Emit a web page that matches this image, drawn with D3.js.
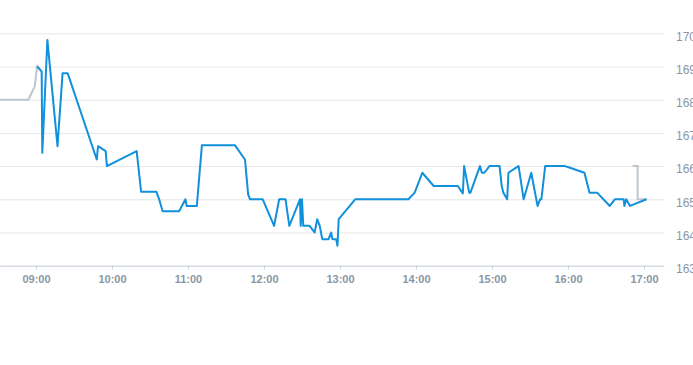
<!DOCTYPE html>
<html>
<head>
<meta charset="utf-8">
<script src="https://cdn.jsdelivr.net/npm/d3@7"></script>
<style>
  body { margin: 0; background: #fff; }
  svg { display: block; font-family: "Liberation Sans", Arial, sans-serif; }
</style>
</head>
<body>
<div class="chart-wrapper"></div>
<script>
var chartwidth = 693
var chartheight = 365
var plotwidth = 664

// pre-market (grey), session (blue), after-hours (grey)
var pretimes = ['08:30:00', '08:54:00', '08:59:00', '09:01:00']
var prevalues = [168.0, 168.0, 168.4, 169.05]

var sessiontimes = ['09:01:00', '09:04:30', '09:05:00', '09:09:00', '09:17:00', '09:21:00', '09:25:00',
  '09:48:00', '09:49:00', '09:55:00', '09:56:00', '10:19:30', '10:23:00', '10:35:00', '10:37:00',
  '10:40:00', '10:53:00', '10:58:00', '10:59:00', '11:07:00', '11:11:00', '11:37:00', '11:45:00',
  '11:47:30', '11:49:00', '11:59:00', '12:08:00', '12:12:00', '12:17:00', '12:20:00', '12:28:24',
  '12:29:00', '12:30:00', '12:31:00', '12:36:00', '12:38:00', '12:40:00', '12:42:00', '12:44:00',
  '12:46:00', '12:51:00', '12:53:00', '12:54:00', '12:57:00', '12:58:00', '12:59:00', '13:12:00',
  '13:54:00', '13:59:00', '14:05:00', '14:14:00', '14:33:00', '14:37:00', '14:38:00', '14:42:00',
  '14:43:00', '14:50:30', '14:52:00', '14:54:00', '14:58:00', '15:06:00', '15:07:40', '15:09:00',
  '15:12:00', '15:13:00', '15:21:00', '15:25:00', '15:31:00', '15:36:00', '15:38:00', '15:39:00',
  '15:42:00', '15:57:36', '16:01:36', '16:13:00', '16:17:00', '16:23:00', '16:33:00', '16:37:00',
  '16:44:00', '16:44:30', '16:46:00', '16:49:00', '17:02:00']
var sessionvalues = [169.0, 168.85, 166.4, 169.8, 166.6, 168.8, 168.8,
  166.2, 166.6, 166.45, 166.0, 166.45, 165.23, 165.23, 165.03,
  164.64, 164.64, 165.0, 164.8, 164.8, 166.63, 166.63, 166.2,
  165.15, 165.0, 165.0, 164.2, 165.0, 165.0, 164.2, 165.0,
  164.2, 165.0, 164.2, 164.2, 164.1, 164.0, 164.4, 164.2,
  163.8, 163.8, 164.0, 163.8, 163.8, 163.6, 164.4, 165.0,
  165.0, 165.2, 165.8, 165.4, 165.4, 165.18, 166.0, 165.2,
  165.2, 166.0, 165.8, 165.8, 166.0, 166.0, 165.4, 165.2,
  165.0, 165.8, 166.0, 165.0, 165.8, 164.8, 165.0, 165.0,
  166.0, 166.0, 165.95, 165.8, 165.2, 165.2, 164.8, 165.0,
  165.0, 164.8, 165.0, 164.8, 165.0]

var posttimes = ['16:51:00', '16:55:00', '16:55:00', '17:02:00']
var postvalues = [166.0, 166.0, 165.0, 165.0]

var xticks = ['09:00', '10:00', '11:00', '12:00', '13:00', '14:00', '15:00', '16:00', '17:00']
var yticks = [163, 164, 165, 166, 167, 168, 169, 170]
var xdomain = ['08:31:36', '17:15:48']
var ydomain = [163, 170]

var parsetime = d3.timeParse('%H:%M:%S')
var parsetick = d3.timeParse('%H:%M')

var xscale = d3.scaleTime().domain(xdomain.map(parsetime)).range([0, plotwidth])
var yscale = d3.scaleLinear().domain(ydomain).range([265.7, 33.3])

var chartsvg = d3.select('.chart-wrapper')
  .append('svg')
  .attr('width', chartwidth)
  .attr('height', chartheight)

// grid + right labels
var yaxis = chartsvg.append('g')
  .attr('class', 'y-axis')
  .call(d3.axisRight(yscale).tickValues(yticks).tickSize(plotwidth).tickPadding(12).tickFormat(d => d))
yaxis.select('.domain').remove()
yaxis.selectAll('line').attr('stroke', '#e6e6e6')
yaxis.selectAll('text')
  .attr('y', 3)
  .attr('fill', '#8a97a4')
  .attr('font-size', 12)

// bottom axis
var xaxis = chartsvg.append('g')
  .attr('class', 'x-axis')
  .attr('transform', `translate(0,${yscale(ydomain[0])})`)
  .call(d3.axisBottom(xscale)
    .tickValues(xticks.map(parsetick))
    .tickFormat(d3.timeFormat('%H:%M'))
    .tickSize(4)
    .tickSizeOuter(0)
    .tickPadding(6))
xaxis.select('.domain').attr('stroke', '#ccd6df')
xaxis.selectAll('line').attr('stroke', '#ccd6df')
xaxis.selectAll('text')
  .attr('fill', '#8a97a4')
  .attr('font-size', 11)
  .attr('font-weight', 'bold')

var line = d3.line()
  .x(d => xscale(d.t))
  .y(d => yscale(d.v))

function makeseries(times, values) {
  return times.map((t, i) => ({ t: parsetime(t), v: values[i] }))
}

chartsvg.append('path')
  .datum(makeseries(pretimes, prevalues))
  .attr('fill', 'none')
  .attr('stroke', '#bcc7cf')
  .attr('stroke-width', 2)
  .attr('d', line)

chartsvg.append('path')
  .datum(makeseries(posttimes, postvalues))
  .attr('fill', 'none')
  .attr('stroke', '#bcc7cf')
  .attr('stroke-width', 2)
  .attr('d', line)

chartsvg.append('path')
  .datum(makeseries(sessiontimes, sessionvalues))
  .attr('fill', 'none')
  .attr('stroke', '#1190dc')
  .attr('stroke-width', 2)
  .attr('stroke-linejoin', 'round')
  .attr('d', line)
</script>
</body>
</html>
